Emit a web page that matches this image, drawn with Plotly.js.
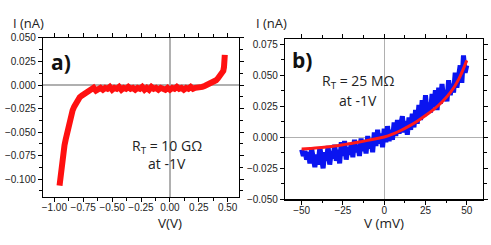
<!DOCTYPE html>
<html>
<head>
<meta charset="utf-8">
<script src="https://cdn.plot.ly/plotly-3.0.1.min.js"></script>
<style>html,body{margin:0;padding:0;background:#fff;}#chart{width:491px;height:245px;}</style>
</head>
<body>
<div id="chart"></div>
<script>
// Panel a: I-V curve (V in volts, I in nA)
const aV = [-0.955,-0.950,-0.945,-0.938,-0.930,-0.922,-0.912,-0.902,-0.892,-0.880,-0.868,-0.855,-0.842,-0.828,-0.812,-0.796,-0.780,-0.760,-0.740,-0.720,-0.700,-0.680,-0.660,-0.640,-0.620,-0.600,-0.580,-0.560,-0.540,-0.520,-0.500,-0.480,-0.460,-0.440,-0.420,-0.400,-0.380,-0.360,-0.340,-0.320,-0.300,-0.280,-0.260,-0.240,-0.220,-0.200,-0.180,-0.160,-0.140,-0.120,-0.100,-0.080,-0.060,-0.040,-0.020,0.000,0.020,0.040,0.060,0.080,0.100,0.120,0.140,0.160,0.180,0.200,0.220,0.240,0.260,0.280,0.300,0.320,0.340,0.360,0.380,0.400,0.415,0.430,0.445,0.455,0.462,0.468,0.472,0.475];
const aI = [-0.107,-0.100,-0.093,-0.085,-0.077,-0.070,-0.064,-0.058,-0.052,-0.046,-0.039,-0.032,-0.027,-0.023,-0.019,-0.016,-0.013,-0.011,-0.009,-0.008,-0.006,-0.005,-0.003,-0.006,-0.004,-0.003,-0.005,-0.003,-0.004,-0.002,-0.005,-0.003,-0.004,-0.002,-0.005,-0.003,-0.004,-0.002,-0.004,-0.003,-0.005,-0.003,-0.004,-0.002,-0.005,-0.003,-0.005,-0.002,-0.004,-0.003,-0.005,-0.003,-0.004,-0.005,-0.003,-0.005,-0.003,-0.004,-0.002,-0.004,-0.003,-0.005,-0.003,-0.004,-0.002,-0.004,-0.003,-0.003,-0.002,-0.002,-0.001,0.000,0.001,0.002,0.003,0.005,0.007,0.009,0.011,0.013,0.015,0.019,0.025,0.032];

// Panel b: measured (noisy) I-V and fit (V in mV, I in nA)
const bV = [-50,-49,-48,-47,-46,-45,-44,-43,-42,-41,-40,-39,-38,-37,-36,-35,-34,-33,-32,-31,-30,-29,-28,-27,-26,-25,-24,-23,-22,-21,-20,-19,-18,-17,-16,-15,-14,-13,-12,-11,-10,-9,-8,-7,-6,-5,-4,-3,-2,-1,0,1,2,3,4,5,6,7,8,9,10,11,12,13,14,15,16,17,18,19,20,21,22,23,24,25,26,27,28,29,30,31,32,33,34,35,36,37,38,39,40,41,42,43,44,45,46,47,48,49,50];
const bI = [-0.010,-0.015,-0.011,-0.018,-0.012,-0.021,-0.009,-0.019,-0.024,-0.014,-0.022,-0.008,-0.016,-0.025,-0.012,-0.019,-0.007,-0.022,-0.011,-0.017,-0.006,-0.019,-0.010,-0.021,-0.004,-0.015,-0.003,-0.018,-0.008,-0.014,-0.005,-0.016,-0.002,-0.012,-0.006,-0.015,-0.001,-0.011,-0.004,-0.013,0.001,-0.009,-0.003,-0.012,0.004,-0.007,0.006,-0.005,0.003,-0.008,0.007,-0.004,0.009,-0.003,0.006,-0.002,0.012,0.001,0.014,0.003,0.010,0.017,0.004,0.013,0.002,0.016,0.006,0.019,0.008,0.022,0.011,0.026,0.014,0.030,0.017,0.034,0.019,0.028,0.020,0.035,0.024,0.038,0.022,0.040,0.027,0.043,0.031,0.038,0.029,0.046,0.034,0.043,0.036,0.052,0.040,0.048,0.058,0.044,0.066,0.052,0.058];
const fitV = [-50,-45,-40,-35,-30,-25,-20,-15,-10,-5,0,5,10,15,20,25,30,35,40,45,50];
const fitI = [-0.0094,-0.0090,-0.0085,-0.0078,-0.0070,-0.0060,-0.0050,-0.0038,-0.0025,-0.0012,0.0002,0.0025,0.0055,0.0090,0.0130,0.0175,0.0225,0.0285,0.0360,0.0465,0.0620];

const tickFont = {family:'Liberation Sans, Arial, sans-serif', size:10, color:'#222'};
const txtFont = {family:'Open Sans, sans-serif', size:14, color:'#222'};
const titleFont = {family:'Open Sans, sans-serif', size:13, color:'#222'};

const traces = [
  {x:aV, y:aI, xaxis:'x', yaxis:'y', mode:'lines', line:{color:'#ff1010', width:6}, hoverinfo:'skip'},
  {x:bV, y:bI, xaxis:'x2', yaxis:'y2', mode:'lines', line:{color:'#0a14f0', width:5}, hoverinfo:'skip'},
  {x:fitV, y:fitI, xaxis:'x2', yaxis:'y2', mode:'lines', line:{color:'#ff1a1a', width:3, shape:'spline'}, hoverinfo:'skip'}
];

function ax(domain, anchor, range, dtick, minor, fmt, standoff){
  return {domain:domain, anchor:anchor, range:range, dtick:dtick, tick0:0, tickformat:fmt,
    showline:true, linecolor:'#000', linewidth:1.2, mirror:'ticks', showgrid:false, automargin:false,
    zeroline:true, zerolinecolor:'#b0b0b0', zerolinewidth:1.3,
    ticks:'outside', ticklen:4, tickwidth:1, tickcolor:'#000', tickfont:tickFont, ticklabelstandoff:standoff,
    minor:{dtick:minor, tick0:0, ticks:'outside', ticklen:2.5, tickcolor:'#000', showgrid:false}};
}

function ann(xref, yref, x, y, text, font){
  return {xref:xref, yref:yref, x:x, y:y, text:text, showarrow:false, font:font, xanchor:'center', yanchor:'middle'};
}
const bigFont = {family:'Open Sans, sans-serif', size:21, color:'#111'};
const xtFont = {family:'Open Sans, sans-serif', size:13.5, color:'#222'};

const layout = {
  width:491, height:245, margin:{l:0,r:0,t:0,b:0,autoexpand:false},
  paper_bgcolor:'#fff', plot_bgcolor:'#fff', showlegend:false,
  xaxis: ax([0.0876,0.4868],'y',[-1.098,0.598],0.25,0.125,'.2f',-3),
  yaxis: ax([0.196,0.845],'x',[-0.119,0.050],0.025,0.0125,'.3f',0),
  xaxis2: ax([0.5804,0.9843],'y2',[-60.1,60],25,12.5,'d',-3),
  yaxis2: ax([0.1865,0.841],'x2',[-0.050,0.0793],0.025,0.0125,'.3f',0),
  annotations: [
    ann('paper','paper',0.059,0.906,'I (nA)',titleFont),
    ann('paper','paper',0.552,0.906,'I (nA)',titleFont),
    ann('x','paper',0,0.088,'V(V)',xtFont),
    ann('x2','paper',0,0.088,'V (mV)',xtFont),
    ann('x','y',-0.942,0.0245,'<b>a)</b>',bigFont),
    ann('x2','y2',-49.7,0.0623,'<b>b)</b>',bigFont),
    ann('x','y',-0.025,-0.065,'R<sub>T</sub> = 10 GΩ',txtFont),
    ann('x','y',-0.025,-0.083,'at -1V',txtFont),
    ann('x2','y2',-15.8,0.0446,'R<sub>T</sub> = 25 MΩ',txtFont),
    ann('x2','y2',-15.8,0.030,'at -1V',txtFont)
  ]
};

Plotly.newPlot('chart', traces, layout, {staticPlot:true, displayModeBar:false});
</script>
</body>
</html>
